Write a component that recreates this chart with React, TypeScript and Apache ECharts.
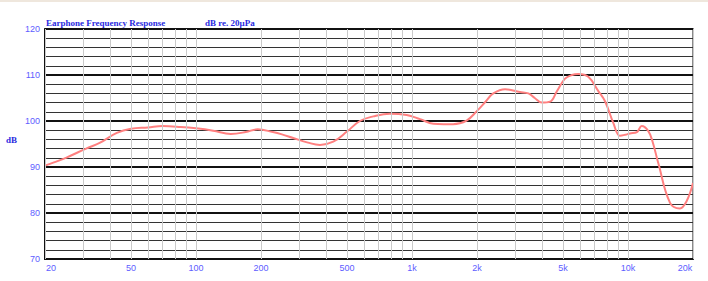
import React, { useEffect, useRef } from 'react';
import * as echarts from 'echarts';

const freqs = [20, 22, 25, 31, 36, 43, 50, 60, 70, 85, 100, 120, 145, 170, 193, 227, 250, 282, 330, 375, 432, 500, 574, 662, 791, 945, 1090, 1256, 1400, 1550, 1790, 2000, 2200, 2380, 2700, 3160, 3460, 3700, 3990, 4360, 4680, 5110, 5500, 5890, 6550, 7290, 7830, 8550, 9180, 9700, 10210, 11000, 11580, 12420, 13000, 13820, 15660, 17400, 18700, 20000];
const levels = [90.3, 91.0, 92.0, 94.0, 95.3, 97.4, 98.3, 98.6, 98.9, 98.7, 98.4, 97.9, 97.2, 97.6, 98.2, 97.6, 97.1, 96.3, 95.3, 94.8, 95.5, 97.7, 100.0, 101.0, 101.6, 101.3, 100.4, 99.4, 99.3, 99.3, 100.1, 102.2, 104.3, 106.0, 106.9, 106.3, 106.0, 105.0, 104.0, 104.2, 106.4, 109.2, 110.0, 110.2, 109.6, 106.5, 104.3, 99.6, 96.8, 97.0, 97.3, 97.6, 98.9, 97.8, 95.5, 90.8, 82.2, 81.0, 82.6, 86.5];

const gridFreqs = [20, 30, 40, 50, 60, 70, 80, 90, 100, 200, 300, 400, 500, 600, 700, 800, 900, 1000, 2000, 3000, 4000, 5000, 6000, 7000, 8000, 9000, 10000, 20000];
const tickFreqs = [20, 50, 100, 200, 500, 1000, 2000, 5000, 10000, 20000];
const tickLabels = ['20', '50', '100', '200', '500', '1k', '2k', '5k', '10k', '20k'];

const yMin = 70;
const yMax = 120;
const yStep = 10;

const titleText = 'Earphone Frequency Response';
const unitText = 'dB re. 20\u00b5Pa';
const yName = 'dB';

export default function App() {
  const ref = useRef<HTMLDivElement>(null);
  useEffect(() => {
    const chart = echarts.init(ref.current!, null, { renderer: 'svg' });
    const labelColor = '#5d5dff';
    const labelFont = 'Liberation Sans, DejaVu Sans, sans-serif';

    const lines = gridFreqs.map((f) => {
      const i = tickFreqs.indexOf(f);
      if (i < 0) return { xAxis: f, label: { show: false } };
      let pad = [0, 0, 0, 0];
      if (i === 0) pad = [0, 0, 0, 12];
      if (i === tickFreqs.length - 1) pad = [0, 16, 0, 0];
      return {
        xAxis: f,
        label: {
          show: true,
          position: 'start',
          distance: 4,
          formatter: tickLabels[i],
          color: labelColor,
          fontSize: 9,
          fontFamily: labelFont,
          padding: pad,
        },
      };
    });

    chart.setOption({
      animation: false,
      backgroundColor: '#ffffff',
      title: [
        {
          text: titleText,
          left: 46,
          top: 18,
          padding: 0,
          textStyle: { color: '#2a2ae0', fontSize: 9, fontWeight: 'bold', fontFamily: 'Liberation Serif, DejaVu Serif, serif' },
        },
        {
          text: unitText,
          left: 205,
          top: 18,
          padding: 0,
          textStyle: { color: '#2a2ae0', fontSize: 9, fontWeight: 'bold', fontFamily: 'Liberation Serif, DejaVu Serif, serif' },
        },
      ],
      graphic: [
        { type: 'rect', left: 0, top: 0, shape: { width: 708, height: 2 }, style: { fill: '#efe7dd' }, silent: true },
      ],
      grid: {
        left: 45,
        right: 15,
        top: 29,
        bottom: 22,
        show: true,
        borderColor: '#8a8a8a',
        borderWidth: 2,
        backgroundColor: 'transparent',
      },
      xAxis: {
        type: 'log',
        logBase: 10,
        min: 20,
        max: 20000,
        z: 2,
        axisLine: { show: true, lineStyle: { color: '#111', width: 2 } },
        axisTick: { show: false },
        axisLabel: { show: false },
        splitLine: { show: false },
        minorSplitLine: { show: false },
      },
      yAxis: {
        type: 'value',
        min: yMin,
        max: yMax,
        interval: yStep,
        z: 2,
        name: yName,
        nameLocation: 'middle',
        nameRotate: 0,
        nameGap: 28,
        nameTextStyle: { color: '#2a2ae0', fontSize: 9, fontWeight: 'bold', fontFamily: 'Liberation Serif, DejaVu Serif, serif', verticalAlign: 'bottom' },
        axisLine: { show: true, lineStyle: { color: '#111', width: 2 } },
        axisTick: { show: false },
        axisLabel: { color: labelColor, fontSize: 9, fontFamily: labelFont, margin: 5 },
        splitLine: { show: true, lineStyle: { color: '#111', width: 2 } },
        minorTick: { show: false, splitNumber: 5 },
        minorSplitLine: { show: true, lineStyle: { color: '#333', width: 1 } },
      },
      series: [
        {
          type: 'line',
          name: 'grid',
          z: 1,
          silent: true,
          data: [[20, 70]],
          symbol: 'none',
          lineStyle: { opacity: 0 },
          markLine: {
            silent: true,
            symbol: ['none', 'none'],
            animation: false,
            lineStyle: { color: '#cacaca', width: 1, type: 'solid', opacity: 1 },
            emphasis: { disabled: true },
            data: lines,
          },
        },
        {
          type: 'line',
          name: 'response',
          z: 3,
          data: freqs.map((f, i) => [f, levels[i]]),
          symbol: 'none',
          smooth: 0.4,
          lineStyle: { color: '#ff8080', width: 2 },
        },
      ],
    });
    return () => chart.dispose();
  }, []);
  return (
    <div
      ref={ref}
      style={{ position: 'fixed', left: 0, top: 0, width: 708, height: 281, background: '#fff' }}
    />
  );
}
